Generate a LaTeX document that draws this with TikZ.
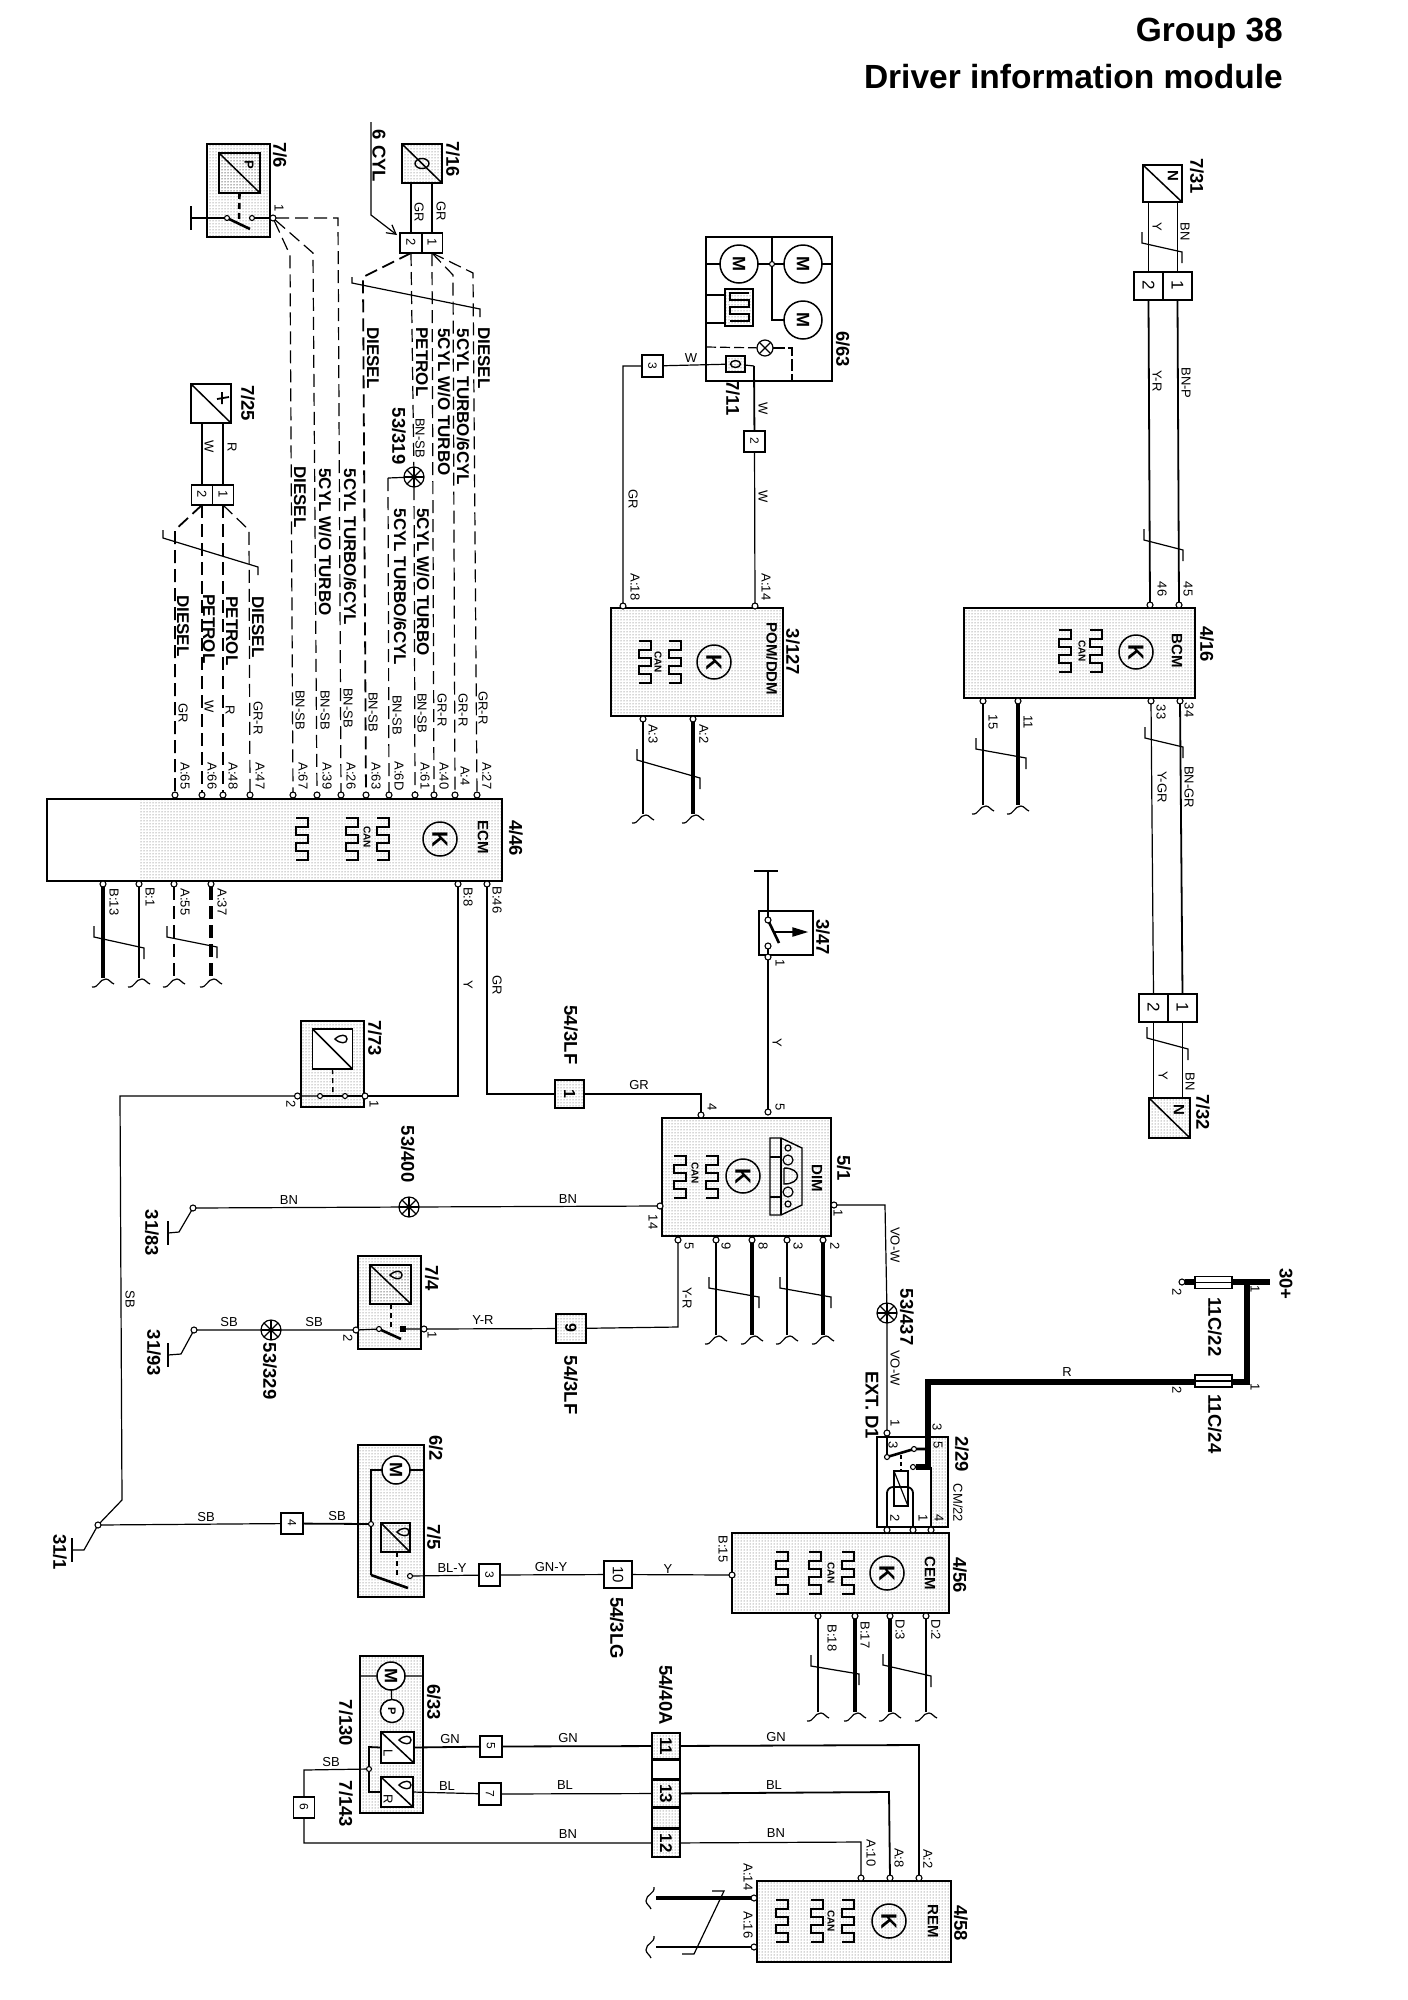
\documentclass[tikz,border=0pt]{standalone}
\usepackage{fontspec}
\usepackage{graphicx}
\setmainfont{Liberation Sans}
\usetikzlibrary{patterns,arrows.meta}

\tikzset{
  wire/.style={line width=1.2pt},
  midw/.style={line width=2.6pt},
  thickw/.style={line width=4.6pt},
  battw/.style={line width=6.5pt},
  dwire/.style={line width=1.2pt,dash pattern=on 13pt off 6pt},
  dmid/.style={line width=2.6pt,dash pattern=on 13pt off 6pt},
  dthick/.style={line width=4.6pt,dash pattern=on 13pt off 6pt},
  stip/.style={pattern=dots,pattern color=black!70},
  unit/.style={draw,line width=1.5pt,inner sep=0pt,outer sep=0pt},
  relay/.style={unit,path picture={\draw[line width=1.5pt] (path picture bounding box.north west) -- (path picture bounding box.south east);}},
  cell/.style={unit,font=\fontsize{13}{13}\selectfont},
  pinpt/.style={circle,draw,fill=white,line width=1.1pt,inner sep=0pt,minimum size=6pt,outer sep=0pt},
  spot/.style={circle,draw,line width=1.2pt,inner sep=0pt,outer sep=0pt,minimum size=20pt},
  motor/.style={circle,draw,fill=white,line width=1.5pt,inner sep=0pt,outer sep=0pt,minimum size=28pt,font=\fontsize{18}{18}\selectfont\bfseries},
  kmark/.style={circle,draw,line width=1.5pt,inner sep=0pt,outer sep=0pt,minimum size=34pt,font=\fontsize{22}{22}\selectfont\bfseries},
  reflbl/.style={rotate=-90,inner sep=0pt,font=\fontsize{18.5}{18.5}\selectfont\bfseries},
  hrnlbl/.style={rotate=-90,inner sep=0pt,font=\fontsize{17}{17}\selectfont\bfseries},
  modlbl/.style={rotate=-90,inner sep=0pt,font=\fontsize{15}{15}\selectfont\bfseries},
  vlbl/.style={rotate=-90,inner sep=0pt,font=\fontsize{13}{13}\selectfont},
  hlbl/.style={inner sep=0pt,font=\fontsize{13}{13}\selectfont},
  ttl/.style={anchor=east,inner sep=0pt,font=\fontsize{33.5}{33.5}\selectfont\bfseries},
}

\newcommand{\rt}[1]{\rotatebox[origin=c]{-90}{#1}}
\newcommand{\wavyend}[2]{\draw[wire] (#1-11,#2+4) .. controls (#1-4,#2+5) and (#1-4,#2-4) .. (#1+3,#2-4) .. controls (#1+6,#2-4) and (#1+8,#2) .. (#1+11,#2+1);}
\newcommand{\wavyside}[2]{\draw[wire] (#1+4,#2-11) .. controls (#1+5,#2-4) and (#1-4,#2-4) .. (#1-4,#2+3) .. controls (#1-4,#2+6) and (#1,#2+8) .. (#1+1,#2+11);}
\newcommand{\stub}[5]{\node[pinpt] (#1) at (#2,#3) {}; \coordinate (#1end) at (#2,#4); \draw[#5] (#1) -- (#1end); \wavyend{#2}{#4+5}}
\newcommand{\twist}[4]{\draw[wire] (#1,#2-11) -- (#1,#2) -- (#3,#4) -- (#3,#4+11);}
\newcommand{\gndbar}[3]{\coordinate (#1) at (#2,#3); \draw[wire] (#2,#3-12) -- (#2,#3+12);}
\newcommand{\splice}[3]{\node[spot] (#1) at (#2,#3) {}; \foreach \a/\b in {0/180,45/225,90/270,135/315} {\draw[wire] (#1.\a) -- (#1.\b);}}
\newcommand{\canwave}[2]{\draw[line width=1.4pt] (#1-6,#2-21) -- (#1+6,#2-21) -- (#1+6,#2-12) -- (#1-6,#2-12) -- (#1-6,#2-4) -- (#1+6,#2-4) -- (#1+6,#2+4) -- (#1-6,#2+4) -- (#1-6,#2+12) -- (#1+6,#2+12) -- (#1+6,#2+21) -- (#1-6,#2+21);}
\newcommand{\dropmark}[2]{\draw[line width=1.4pt] (#1-6,#2) .. controls (#1-1,#2-5) and (#1+6,#2-5) .. (#1+6,#2) .. controls (#1+6,#2+5) and (#1-1,#2+5) .. (#1-6,#2) -- cycle;}

\begin{document}
\begin{tikzpicture}[x=1pt,y=-1pt]
\useasboundingbox (0,0) rectangle (1408,2000);

\node[ttl] (ttla) at (1283,33) {Group 38};
\node[ttl] (ttlb) at (1283,77) {Driver information module};

% modules with the stippled bodies
\path[stip] (140,799) rectangle (502,881);
\node[unit,minimum width=455pt,minimum height=82pt] (ecm) at (274.5,840) {};
\node[unit,stip,minimum width=172pt,minimum height=108pt] (pom) at (697,662) {};
\node[unit,stip,minimum width=231pt,minimum height=90pt] (bcm) at (1079.5,653) {};
\node[unit,stip,minimum width=169pt,minimum height=118pt] (dim) at (746.5,1177) {};
\node[unit,stip,minimum width=217pt,minimum height=80pt] (cem) at (840.5,1573) {};
\node[unit,stip,minimum width=194pt,minimum height=81pt] (rem) at (854,1921.5) {};

\node[kmark] (kecm) at (440,839) {\rt{K}};
\node[kmark] (kpom) at (714,662) {\rt{K}};
\node[kmark] (kbcm) at (1136,652) {\rt{K}};
\node[kmark] (kdim) at (743,1176) {\rt{K}};
\node[kmark] (kcem) at (887,1573) {\rt{K}};
\node[kmark] (krem) at (889,1921) {\rt{K}};

\foreach \x/\y in {383/839,352/839,302/839,675/662,645/662,1096/651,1065/651,712/1177,680/1177,848/1573,815/1573,782/1573,848/1921,817/1921,782/1921} {
  \canwave{\x}{\y}
}

% the two sensors at top left
\node[unit,stip,minimum width=63pt,minimum height=93pt] (ubox) at (238.5,190.5) {};
\node[relay,stip,minimum width=41pt,minimum height=40pt] (rp) at (239.5,173) {};
\node[hlbl] (tp) at (249,165) {\rt{\bfseries P}};
\node[relay,stip,minimum width=40pt,minimum height=39pt] (s716) at (422,163.5) {};
\draw[line width=1.4pt] (s716) ellipse (7pt and 5pt);
\node[relay,minimum width=40pt,minimum height=39pt] (s725) at (211,403.5) {};
\draw[line width=1.8pt] (217,399) -- (229,397) (222,392) -- (222,404);

\node[cell] (c1625b) at (411,243) [minimum width=22pt,minimum height=20pt] {\rt{2}};
\node[cell] (c1625a) at (432,243) [minimum width=21pt,minimum height=20pt] {\rt{1}};
\node[cell] (c25b) at (202,495) [minimum width=21pt,minimum height=20pt] {\rt{2}};
\node[cell] (c25a) at (223,495) [minimum width=21pt,minimum height=20pt] {\rt{1}};

% pins along the top of the ECM
\foreach \nm/\x in {65/175,66/202,48/223,47/250,67/293,39/317,26/341,63/366,6D/389,61/415,40/434,4/455,27/477} {
  \node[pinpt] (ecm\nm) at (\x,795) {};
  \node[vlbl] (pa\nm) at (\x+10,776) {A:\nm};
}

\node[pinpt] (j76) at (273,218) {};
\node[pinpt] (sw76a) at (227,218) [minimum size=5pt] {};
\node[pinpt] (sw76b) at (252,218) [minimum size=5pt] {};
\gndbar{g76}{191}{218}
\draw[wire] (g76) -- (sw76a);
\draw[wire] (sw76b) -- (j76);
\draw[midw] (sw76a) -- (250,229);
\draw[dmid,dash pattern=on 6pt off 4pt] (rp.south) -- (239,224);

\coordinate (d1) at (290,255);
\coordinate (d2) at (313,253);
\coordinate (d3) at (338,218);
\draw[dwire] (j76) -- (d1) -- (ecm67);
\draw[dwire] (j76) -- (d2) -- (ecm39);
\draw[dwire] (j76) -- (d3) -- (ecm26);

\draw[wire] (c1625b |- s716.south) -- (c1625b.north);
\draw[midw,line width=1.8pt] (c1625a |- s716.south) -- (c1625a.north);
\coordinate (cyla) at (371,122);
\coordinate (cylb) at (371,215);
\coordinate (cylc) at (397,235);
\draw[wire,-{Straight Barb[length=9pt,width=10pt]}] (cyla) -- (cylb) -- (cylc);

\splice{spl319}{414}{477}
\coordinate (e1) at (363,277);
\coordinate (e2) at (453,275);
\coordinate (e3) at (473,273);
\coordinate (b319) at (388,478);
\draw[dmid,line width=1.8pt] (c1625b.south) -- (e1) -- (ecm63);
\draw[dwire] (c1625b.south) -- (spl319);
\draw[dwire] (spl319) -- (ecm61);
\draw[wire] (spl319) -- (b319);
\draw[dwire] (b319) -- (ecm6D);
\draw[dwire] (c1625a.south) -- (ecm40);
\draw[dwire] (c1625a.south) -- (e2) -- (ecm4);
\draw[dwire] (c1625a.south) -- (e3) -- (ecm27);
\draw[wire] (352,277) -- (352,283) -- (480,309) -- (480,317);

\draw[wire] (c25b |- s725.south) -- (c25b.north);
\draw[wire] (c25a |- s725.south) -- (c25a.north);
\coordinate (f1) at (175,530);
\coordinate (f2) at (249,530);
\draw[dmid,line width=1.8pt] (c25b.south) -- (f1) -- (ecm65);
\draw[dwire] (c25b.south) -- (ecm66);
\draw[dwire] (c25a.south) -- (ecm48);
\draw[dwire] (c25a.south) -- (f2) -- (ecm47);
\draw[wire] (163,530) -- (163,538) -- (258,567) -- (258,575);

% loose ends below the ECM
\stub{ecmB13}{103}{884}{978}{thickw}
\stub{ecmB1}{139}{884}{978}{midw}
\stub{ecmA55}{174}{884}{978}{dmid}
\stub{ecmA37}{211}{884}{978}{dthick}
\twist{94}{937}{144}{948}
\twist{167}{937}{217}{947}
\node[pinpt] (ecmB8) at (458,884) {};
\node[pinpt] (ecmB46) at (487,884) {};

% 7/73 and the long ground wire
\node[unit,stip,minimum width=63pt,minimum height=86pt] (u773) at (332.5,1064) {};
\node[relay,fill=white,minimum width=40pt,minimum height=40pt] (r773) at (332.5,1049) {};
\dropmark{341}{1039}
\node[pinpt] (p773b) at (297.5,1096) {};
\node[pinpt] (s773a) at (320,1096) [minimum size=5pt] {};
\node[pinpt] (s773b) at (345,1096) [minimum size=5pt] {};
\node[pinpt] (p773a) at (365,1096) {};
\coordinate (bb8) at (458,1096);
\coordinate (btr) at (120,1096);
\coordinate (btm) at (122,1500);
\node[pinpt] (g31n) at (98,1525) {};
\coordinate (g31k) at (84,1550);
\gndbar{g31}{72}{1550}
\draw[wire] (ecmB8) -- (bb8) -- (p773a) -- (s773b);
\draw[midw] (s773b) -- (s773a);
\draw[wire] (s773a) -- (p773b) -- (btr) -- (btm) -- (g31n) -- (g31k) -- (g31);
\draw[dmid,line width=1.4pt,dash pattern=on 5pt off 4pt] (r773.south) -- (333,1096);

\node[unit,stip,minimum width=29pt,minimum height=28pt,font=\fontsize{16}{16}\selectfont\bfseries] (bx1) at (569.5,1094) {\rt{1}};
\coordinate (bb46) at (487,1094);
\coordinate (bd4) at (701,1094);
\node[pinpt] (dim4) at (701,1115) {};
\draw[wire] (ecmB46) -- (bb46) -- (bx1) -- (bd4) -- (dim4);

% 3/47
\node[unit,minimum width=54pt,minimum height=44pt] (u347) at (786,933) {};
\coordinate (t347) at (768,871);
\draw[wire] (754,871) -- (778,871);
\node[pinpt] (s347a) at (768,920) [minimum size=6pt] {};
\node[pinpt] (s347b) at (768,946) {};
\node[pinpt] (p347) at (768,957) {};
\node[pinpt] (dim5t) at (768,1112) {};
\draw[wire] (t347) -- (s347a);
\draw[midw] (s347a) -- (779,943);
\draw[wire] (s347b) -- (p347) -- (dim5t);
\draw[wire] (775,932) -- (793,932);
\draw[line width=1.2pt,fill=black] (793,928) -- (806,932) -- (793,936) -- cycle;

% DIM
\draw[line width=1.4pt] (770,1138) -- (781,1138) -- (802,1148) -- (802,1205) -- (781,1215) -- (770,1215) -- cycle;
\draw[line width=1.4pt] (781,1138) -- (781,1215) (770,1157) -- (781,1157) (770,1197) -- (781,1197);
\draw[line width=1.2pt] (788,1148) circle (3pt) (788,1160) circle (5pt) (788,1192) circle (5pt) (788,1204) circle (3pt);
\draw[line width=1.4pt] (784,1168) -- (784,1184) .. controls (802,1184) and (802,1168) .. (784,1168);
\stub{dim9}{716}{1240}{1335}{midw}
\stub{dim8}{752}{1240}{1335}{thickw}
\stub{dim3}{787}{1240}{1335}{midw}
\stub{dim2}{823}{1240}{1335}{thickw}
\twist{709}{1288}{759}{1297}
\twist{780}{1288}{831}{1297}
\node[pinpt] (dim5b) at (678,1240) {};
\node[pinpt] (dim14) at (660,1206) {};
\node[pinpt] (dim1) at (834,1205) {};

% 31/83 to DIM
\gndbar{g83}{168}{1233}
\coordinate (g83k) at (179,1232);
\node[pinpt] (g83n) at (193,1208) {};
\splice{spl400}{409}{1207}
\draw[wire] (g83) -- (g83k) -- (g83n) -- (spl400) -- (dim14);

% 31/93, 7/4 and on to DIM
\gndbar{g93}{168}{1355}
\coordinate (g93k) at (181,1354);
\node[pinpt] (g93n) at (194,1330) {};
\splice{spl329}{271}{1330}
\node[unit,stip,minimum width=63pt,minimum height=93pt] (u74) at (389.5,1302.5) {};
\node[relay,stip,minimum width=41pt,minimum height=39pt] (r74) at (390.5,1284.5) {};
\dropmark{396}{1275}
\node[pinpt] (p74b) at (356,1330) {};
\node[pinpt] (s74a) at (379,1329) [minimum size=5pt] {};
\node[unit,fill=black,minimum size=4pt] (s74b) at (403,1329) {};
\node[pinpt] (p74a) at (424,1329) {};
\node[unit,stip,minimum width=30pt,minimum height=29pt,font=\fontsize{16}{16}\selectfont\bfseries] (bx9) at (571,1328.5) {\rt{9}};
\coordinate (bd5) at (678,1327);
\draw[wire] (g93) -- (g93k) -- (g93n) -- (spl329) -- (p74b) -- (s74a);
\draw[midw] (s74a) -- (401,1339);
\draw[wire] (s74b) -- (p74a) -- (bx9) -- (bd5) -- (dim5b);
\draw[dwire,dash pattern=on 5pt off 4pt] (r74.south -| 391,0) -- (391,1327);

% VO-W down to the relay
\coordinate (bd1) at (885,1205);
\splice{spl437}{887}{1313}
\node[pinpt] (p291) at (887,1433) {};
\draw[wire] (dim1) -- (bd1) -- (spl437) -- (p291);

% 2/29 and the battery feed
\node[unit,stip,minimum width=71pt,minimum height=90pt] (u229) at (912.5,1482) {};
\path[fill=white] (878,1438) rectangle (931,1526);
\draw[line width=1.5pt] (877,1437) rectangle (948,1527);
\node[unit,fill=white,minimum width=14pt,minimum height=35pt,path picture={\draw[line width=1.2pt] (path picture bounding box.north west) -- (path picture bounding box.south east);}] (coil) at (901,1488.5) {};
\node[pinpt] (s229a) at (887,1457) [minimum size=5pt] {};
\node[pinpt] (s229b) at (914,1449) [minimum size=5pt] {};
\node[pinpt] (s229c) at (913,1467) [minimum size=5pt] {};
\coordinate (bsw) at (928,1449);
\coordinate (brl) at (928,1467);
\coordinate (btop) at (928,1382);
\coordinate (bfr) at (1247,1382);
\coordinate (bftop) at (1247,1282);
\node[pinpt] (cem2) at (887,1530) {};
\node[pinpt] (cem1) at (913,1530) {};
\node[pinpt] (cem4) at (931,1530) {};
\draw[wire] (p291) -- (s229a);
\draw[midw] (s229a) -- (s229b) -- (bsw);
\draw[dwire,dash pattern=on 4pt off 3pt] (901,1455) -- (coil.north);
\draw[battw,line join=miter] (s229c) -- (brl) -- (btop) -- (bfr) -- (bftop);
\draw[midw,line width=1.8pt,rounded corners=6pt] (cem2) -- (887,1487) -- (913,1487) -- (cem1);
\draw[wire] (931,1467) -- (cem4);

\node[pinpt] (f22n) at (1182,1282) {};
\coordinate (f22e) at (1270,1282);
\draw[battw] (f22n) -- (f22e);
\node[unit,stip,fill=white,minimum width=37pt,minimum height=12pt] (f22) at (1213.5,1282.5) {};
\node[unit,fill=white,minimum width=37pt,minimum height=12pt] (f24) at (1213.5,1381) {};
\draw[line width=1.2pt] (f22.west) -- (f22.east) (f24.west) -- (f24.east);

% CEM
\stub{cemB18}{818}{1616}{1712}{midw}
\stub{cemB17}{855}{1616}{1712}{thickw}
\stub{cemD3}{890}{1616}{1712}{thickw}
\stub{cemD2}{926}{1616}{1712}{midw}
\twist{811}{1666}{859}{1674}
\twist{883}{1665}{931}{1676}

% 6/2 and 7/5
\node[unit,stip,minimum width=66pt,minimum height=152pt] (u62) at (391,1521) {};
\node[motor] (mot62) at (396,1470) {\rt{M}};
\node[relay,stip,minimum width=29pt,minimum height=29pt] (r75) at (395.5,1537.5) {};
\dropmark{403}{1532}
\node[unit,minimum width=22pt,minimum height=21pt,font=\fontsize{12}{12}\selectfont] (bx4) at (292,1523.5) {\rt{4}};
\node[pinpt] (j75) at (371,1524) [minimum size=5pt] {};
\coordinate (m62l) at (371,1470);
\coordinate (m62r) at (424,1470);
\coordinate (b75) at (371,1575);
\node[pinpt] (p75) at (410,1576) [minimum size=5pt] {};
\node[unit,minimum width=21pt,minimum height=22pt,font=\fontsize{12}{12}\selectfont] (bx3) at (489.5,1575) {\rt{3}};
\node[unit,minimum width=28pt,minimum height=27pt] (bx10) at (618,1574.5) {\rt{\fontsize{15}{15}\selectfont 10}};
\node[pinpt] (cemB15) at (732,1575) {};
\draw[wire] (g31n) -- (bx4);
\draw[midw,line width=1.8pt] (bx4) -- (j75);
\draw[midw,line width=1.8pt] (mot62) -- (m62l) -- (j75) -- (b75);
\draw[wire] (mot62) -- (m62r);
\draw[midw] (b75) -- (408,1588);
\draw[dwire,dash pattern=on 5pt off 4pt] (r75.south -| 397,0) -- (397,1575);
\draw[wire] (p75) -- (bx3) -- (bx10) -- (cemB15);

% 6/33, 7/130, 7/143
\node[unit,stip,minimum width=63pt,minimum height=157pt] (u633) at (391.5,1734.5) {};
\node[motor] (mot633) at (391,1676) {\rt{M}};
\node[circle,draw,fill=white,line width=1.5pt,inner sep=0pt,minimum size=23pt] (fan633) at (392,1711) {\rt{\bfseries\fontsize{11}{11}\selectfont P}};
\node[relay,fill=white,minimum width=33pt,minimum height=31pt] (r130) at (397.5,1747.5) {};
\node[relay,fill=white,minimum width=32pt,minimum height=30pt] (r143) at (397,1792) {};
\dropmark{405}{1740}
\dropmark{405}{1785}
\node[hlbl] (tl) at (388,1754) {\rt{L}};
\node[hlbl] (tr) at (388,1799) {\rt{R}};
\draw[wire] (360,1676) -- (mot633) -- (423,1676) (mot633) -- (fan633);
\node[pinpt] (j633) at (369,1769) [minimum size=5pt] {};
\coordinate (b130) at (369,1747);
\coordinate (b143) at (369,1792);
\draw[midw,line width=1.8pt] (r130.west) -- (b130) -- (j633) -- (b143) -- (r143.west);
\node[unit,minimum width=22pt,minimum height=21pt,font=\fontsize{12}{12}\selectfont] (bx5) at (491,1746.5) {\rt{5}};
\node[unit,minimum width=22pt,minimum height=22pt,font=\fontsize{12}{12}\selectfont] (bx7) at (490,1794) {\rt{7}};
\node[unit,minimum width=21pt,minimum height=21pt,font=\fontsize{12}{12}\selectfont] (bx6) at (304,1807.5) {\rt{6}};
\node[cell,stip,minimum width=28pt,minimum height=26pt] (c11) at (666,1746) {\rt{\fontsize{17}{17}\selectfont\bfseries 11}};
\node[unit,minimum width=28pt,minimum height=19pt] (c00) at (666,1769.5) {};
\node[cell,stip,minimum width=28pt,minimum height=27pt] (c13) at (666,1793.5) {\rt{\fontsize{17}{17}\selectfont\bfseries 13}};
\node[unit,stip,minimum width=28pt,minimum height=20pt] (c01) at (666,1818) {};
\node[cell,stip,minimum width=28pt,minimum height=28pt] (c12) at (666,1843) {\rt{\fontsize{17}{17}\selectfont\bfseries 12}};

\node[pinpt] (remA10) at (861,1878) {};
\node[pinpt] (remA8) at (890,1878) {};
\node[pinpt] (remA2) at (919,1878) {};
\coordinate (bgn) at (919,1745);
\coordinate (bbl) at (889,1792);
\coordinate (bbn) at (861,1842);
\coordinate (bsb) at (304,1770);
\coordinate (bs6) at (304,1843);
\draw[midw,line width=1.8pt] (r130.east) -- (bx5) -- (c11);
\draw[wire] (r143.east) -- (bx7) -- (c13);
\draw[wire] (j633) -- (bsb) -- (bx6) -- (bs6) -- (c12);
\draw[midw,line width=1.8pt] (c11) -- (bgn) -- (remA2);
\draw[midw,line width=1.8pt] (c13) -- (bbl) -- (remA8);
\draw[wire] (c12) -- (bbn) -- (remA10);

% REM
\node[pinpt] (remA14) at (754,1898) {};
\node[pinpt] (remA16) at (754,1947) {};
\coordinate (a14e) at (656,1898);
\coordinate (a16e) at (656,1947);
\draw[thickw] (remA14) -- (a14e);
\draw[midw] (remA16) -- (a16e);
\wavyside{650}{1898}
\wavyside{650}{1947}
\draw[wire] (712,1891) -- (724,1891) -- (694,1954) -- (682,1954);

% POM and 6/63
\node[unit,minimum width=126pt,minimum height=144pt] (u663) at (769,309) {};
\node[motor,minimum size=38pt] (mx) at (739,264) {\rt{M}};
\node[motor,minimum size=38pt] (my) at (803,264) {\rt{M}};
\node[motor,minimum size=38pt] (mp) at (803,320) {\rt{M}};
\node[pinpt] (jm) at (772,264) [minimum size=5pt] {};
\coordinate (jmt) at (772,237);
\coordinate (jmb) at (772,320);
\draw[line width=1.4pt] (706,264) -- (mx) -- (jm) -- (my) -- (832,264);
\draw[line width=1.4pt] (jmt) -- (jm) -- (jmb) -- (mp);
\node[unit,stip,minimum width=28pt,minimum height=37pt] (heat) at (739,307.5) {};
\draw[line width=1.3pt] (749,293) -- (730,293) -- (730,300) -- (749,300) -- (749,307) -- (730,307) -- (730,314) -- (749,314) -- (749,321) -- (730,321);
\draw[midw,line width=1.6pt] (706,295) -- (725,295) (706,323) -- (725,323);
\node[spot,minimum size=16pt] (lamp) at (765,348) {};
\draw[wire] (lamp.45) -- (lamp.225) (lamp.135) -- (lamp.315);
\coordinate (lampa) at (792,348);
\coordinate (lampb) at (792,381);
\draw[dwire,dash pattern=on 10pt off 4pt] (706,347) -- (lamp);
\draw[midw,line width=1.8pt,dash pattern=on 12pt off 3pt] (lamp) -- (lampa) -- (lampb);
\node[unit,stip,minimum width=19pt,minimum height=16pt] (s711) at (735.5,364) {};
\draw[line width=1.4pt] (s711) ellipse (5pt and 3.5pt);
\node[unit,minimum width=21pt,minimum height=22pt,font=\fontsize{12}{12}\selectfont] (bx3p) at (652.5,366) {\rt{3}};
\node[unit,minimum width=21pt,minimum height=21pt,font=\fontsize{12}{12}\selectfont] (bx2p) at (754.5,441.5) {\rt{2}};
\coordinate (bs711) at (754,366);
\coordinate (bgr) at (623,366);
\node[pinpt] (pomA18) at (623,606) {};
\node[pinpt] (pomA14) at (755,606) {};
\draw[wire] (s711) -- (bx3p) -- (bgr) -- (pomA18);
\draw[wire] (s711) -- (bs711);
\draw[midw,line width=1.8pt] (bs711) -- (bx2p);
\draw[wire] (bx2p) -- (pomA14);
\stub{pomA3}{643}{719}{814}{midw}
\stub{pomA2}{693}{719}{814}{thickw}
\twist{637}{760}{700}{778}

% BCM with 7/31, 7/32
\node[relay,minimum width=39pt,minimum height=37pt] (s731) at (1162.5,183.5) {};
\node[relay,stip,minimum width=41pt,minimum height=40pt] (s732) at (1169.5,1118) {};
\node[cell,minimum width=29pt,minimum height=28pt,font=\fontsize{17}{17}\selectfont] (c31b) at (1148.5,286) {\rt{2}};
\node[cell,minimum width=29pt,minimum height=28pt,font=\fontsize{17}{17}\selectfont] (c31a) at (1177.5,286) {\rt{1}};
\node[cell,minimum width=29pt,minimum height=28pt,font=\fontsize{17}{17}\selectfont] (c32b) at (1153.5,1008) {\rt{2}};
\node[cell,minimum width=29pt,minimum height=28pt,font=\fontsize{17}{17}\selectfont] (c32a) at (1182.5,1008) {\rt{1}};
\node[pinpt] (bcm46) at (1150,605) {};
\node[pinpt] (bcm45) at (1179,605) {};
\node[pinpt] (bcm33) at (1151,701) {};
\node[pinpt] (bcm34) at (1180,701) {};
\draw[midw,line width=1.8pt] (c31b |- s731.south) -- (c31b.north);
\draw[wire] (c31a |- s731.south) -- (c31a.north);
\draw[midw,line width=1.8pt] (c31b.south) -- (bcm46);
\draw[midw,line width=1.8pt] (c31a.south) -- (bcm45);
\draw[wire] (bcm33) -- (c32b.north);
\draw[midw,line width=1.8pt] (bcm34) -- (c32a.north);
\draw[wire] (c32b.south) -- (c32b.south |- s732.north);
\draw[wire] (c32a.south) -- (c32a.south |- s732.north);
\twist{1142}{243}{1182}{252}
\twist{1144}{540}{1183}{550}
\twist{1145}{738}{1183}{747}
\twist{1147}{1038}{1188}{1049}
\stub{bcm15}{983}{701}{805}{midw}
\stub{bcm11}{1018}{701}{805}{thickw}
\twist{976}{749}{1026}{758}

% bold reference numbers
\foreach \nm/\x/\y/\txt in {a/280/155/{7/6},b/453/159/{7/16},c/248/403/{7/25},d/399/436/{53/319},e/516/838/{4/46},f/843/349/{6/63},g/733/398/{7/11},h/793/652/{3/127},i/1197/176/{7/31},j/1207/644/{4/16},k/1203/1112/{7/32},l/823/937/{3/47},m/571/1035/{54/3LF},n/375/1038/{7/73},o/408/1154/{53/400},p/844/1168/{5/1},q/432/1278/{7/4},r/152/1233/{31/83},s/154/1353/{31/93},t/270/1371/{53/329},u/571/1385/{54/3LF},v/907/1317/{53/437},w/1215/1327/{11C/22},x/1215/1424/{11C/24},y/1286/1284/{30+},z/872/1405/{EXT. D1},aa/962/1454/{2/29},ab/60/1552/{31/1},ac/436/1448/{6/2},ad/434/1537/{7/5},ae/617/1628/{54/3LG},af/960/1575/{4/56},ag/434/1702/{6/33},ah/346/1723/{7/130},ai/346/1804/{7/143},aj/666/1695/{54/40A},ak/961/1923/{4/58},al/379/156/{6 CYL}} {
  \node[reflbl] (ref\nm) at (\x,\y) {\txt};
}
% harness conditions
\foreach \nm/\x/\y/\txt in {a/373/358/DIESEL,b/422/362/PETROL,c/444/402/{5CYL W/O TURBO},d/463/407/{5CYL TURBO/6CYL},e/484/358/DIESEL,f/325/542/{5CYL W/O TURBO},g/350/547/{5CYL TURBO/6CYL},h/300/497/DIESEL,i/400/587/{5CYL TURBO/6CYL},j/423/582/{5CYL W/O TURBO},k/183/626/DIESEL,l/209/629/PETROL,m/232/631/PETROL,n/258/627/DIESEL} {
  \node[hrnlbl] (hrn\nm) at (\x,\y) {\txt};
}
% module names
\foreach \nm/\x/\y/\txt in {a/483/837/ECM,b/772/659/{POM/DDM},c/1177/651/BCM,d/817/1178/DIM,e/930/1573/CEM,f/933/1921/REM} {
  \node[modlbl] (mod\nm) at (\x,\y) {\txt};
}
% CAN marks
\foreach \nm/\x/\y in {a/367/837,b/658/662,c/1082/651,d/695/1173,e/831/1573,f/831/1921} {
  \node[vlbl,font=\fontsize{10}{10}\selectfont\bfseries] (can\nm) at (\x,\y) {CAN};
}
% wire colours and pin numbers, running down
\foreach \nm/\x/\y/\txt in {a/419/212/GR,b/441/211/GR,c/420/438/BN-SB,d/209/447/W,e/232/447/R,f/183/713/GR,g/209/707/W,h/230/710/R,i/258/718/GR-R,j/300/710/BN-SB,k/325/710/BN-SB,l/348/708/BN-SB,m/373/712/BN-SB,n/397/715/BN-SB,o/422/713/BN-SB,p/442/710/GR-R,q/463/710/GR-R,r/483/708/GR-R,s/468/985/Y,t/497/985/GR,u/130/1299/SB,v/777/1043/Y,w/895/1245/VO-W,x/895/1368/VO-W,y/687/1298/Y-R,z/633/499/GR,aa/763/409/W,ab/763/497/W,ac/1157/227/Y,ad/1185/232/BN,ae/1157/381/Y-R,af/1186/383/BN-P,ag/1162/787/Y-GR,ah/1189/787/BN-GR,ai/1163/1076/Y,aj/1190/1082/BN} {
  \node[vlbl] (wc\nm) at (\x,\y) {\txt};
}
\foreach \nm/\x/\y/\txt in {a/114/902/B:13,b/150/897/B:1,c/185/902/A:55,d/222/902/A:37,e/468/897/B:8,f/497/900/B:46,g/635/587/A:18,h/766/587/A:14,i/653/734/A:3,j/704/734/A:2,k/1162/589/46,l/1188/589/45,m/993/722/15,n/1028/722/11,o/1161/712/33,p/1189/710/34,q/712/1107/4,r/780/1107/5,s/653/1222/14,t/838/1213/1,u/689/1246/5,v/726/1246/9,w/763/1246/8,x/798/1246/3,y/835/1246/2,z/723/1549/B:15,aa/832/1638/B:18,ab/865/1635/B:17,ac/900/1630/D:3,ad/936/1630/D:2,ae/871/1853/A:10,af/899/1858/A:8,ag/928/1859/A:2,ah/748/1877/A:14,ai/748/1925/A:16,aj/958/1503/{CM/22},ak/279/208/1,al/291/1104/2,am/374/1104/1,an/780/963/1,ao/348/1338/2,ap/432/1335/1,aq/895/1423/1,ar/937/1427/3,as/893/1445/3,at/938/1445/5,au/895/1518/2,av/923/1518/1,aw/939/1518/4,ax/1177/1292/2,ay/1255/1289/1,az/1177/1390/2,ba/1255/1387/1} {
  \node[vlbl] (pn\nm) at (\x,\y) {\txt};
}
% wire colours and marks lying flat
\foreach \nm/\x/\y/\txt in {a/691/358/W,b/639/1085/GR,c/289/1200/BN,d/568/1199/BN,e/229/1322/SB,f/314/1322/SB,g/483/1320/Y-R,h/206/1517/SB,i/337/1516/SB,j/452/1568/BL-Y,k/551/1567/GN-Y,l/668/1569/Y,m/1067/1372/R,n/450/1739/GN,o/447/1786/BL,p/568/1738/GN,q/565/1785/BL,r/568/1834/BN,s/776/1737/GN,t/774/1785/BL,u/776/1833/BN,v/331/1762/SB} {
  \node[hlbl] (wf\nm) at (\x,\y) {\txt};
}
\node[hlbl] (tn1) at (1173,176) {\rt{\bfseries\fontsize{15}{15}\selectfont N}};
\node[hlbl] (tn2) at (1179,1110) {\rt{\bfseries\fontsize{15}{15}\selectfont N}};

\end{tikzpicture}
\end{document}
